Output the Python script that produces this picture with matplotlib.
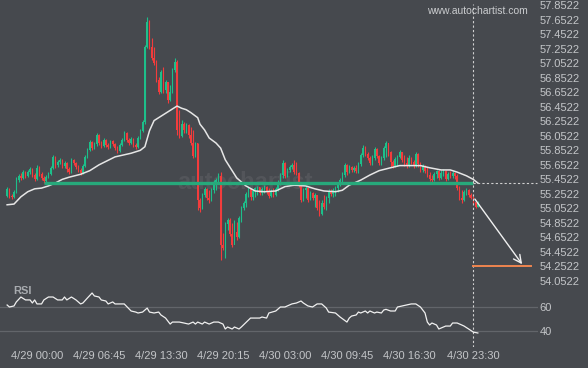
import numpy as np
import pandas as pd
import matplotlib
matplotlib.use("Agg")
import matplotlib.pyplot as plt

plt.rcParams['font.family'] = ['Liberation Sans', 'DejaVu Sans']

# 15-minute bars, first bar at 4/28 20:45
first_bar = "2024-04-28 20:45"
first_open = 55.22

closes = [
    55.32, 55.22, 55.21, 55.28, 55.44, 55.50, 55.47, 55.55, 55.50, 55.55,
    55.59, 55.51, 55.46, 55.61, 55.52, 55.47, 55.43, 55.48, 55.52, 55.61,
    55.76, 55.65, 55.69, 55.72, 55.63, 55.68, 55.59, 55.55, 55.72, 55.68,
    55.62, 55.58, 55.54, 55.63, 55.76, 55.85, 55.97, 55.88, 55.94, 56.06,
    55.95, 55.91, 55.99, 55.92, 55.90, 55.98, 55.94, 55.88, 55.84, 55.92,
    55.99, 56.09, 55.99, 55.95, 56.01, 55.92, 55.90, 56.02, 56.12, 56.24,
    57.27, 57.62, 57.27, 57.12, 57.05, 56.82, 56.65, 56.93, 56.68, 56.79,
    56.54, 56.65, 56.96, 57.07, 56.13, 56.05, 56.21, 56.13, 56.20, 56.06,
    55.95, 55.77, 55.95, 55.17, 55.06, 55.24, 55.32, 55.19, 55.17, 55.30,
    55.41, 55.44, 55.50, 54.55, 54.51, 54.84, 54.89, 54.70, 54.55, 54.73,
    54.66, 54.92, 55.06, 55.12, 55.25, 55.32, 55.21, 55.29, 55.33, 55.35,
    55.26, 55.32, 55.35, 55.28, 55.22, 55.29, 55.24, 55.32, 55.41, 55.51,
    55.68, 55.50, 55.58, 55.62, 55.65, 55.55, 55.54, 55.37, 55.17, 55.30,
    55.33, 55.17, 55.26, 55.19, 55.24, 55.06, 54.97, 55.12, 55.07, 55.19,
    55.29, 55.25, 55.30, 55.33, 55.39, 55.44, 55.51, 55.65, 55.55, 55.62,
    55.58, 55.61, 55.57, 55.66, 55.79, 55.88, 55.80, 55.74, 55.68, 55.74,
    55.87, 55.77, 55.68, 55.74, 55.88, 55.95, 55.83, 55.69, 55.63, 55.73,
    55.76, 55.83, 55.72, 55.68, 55.63, 55.74, 55.69, 55.63, 55.80, 55.66,
    55.58, 55.63, 55.57, 55.51, 55.46, 55.44, 55.52, 55.57, 55.47, 55.54,
    55.57, 55.46, 55.52, 55.50, 55.54, 55.50, 55.33, 55.19, 55.17, 55.28,
    55.30, 55.24, 55.19, 55.14, 55.07, 55.12,
]

highs = [
    55.35, 55.33, 55.25, 55.30, 55.48, 55.52, 55.54, 55.58, 55.57, 55.58,
    55.62, 55.61, 55.54, 55.65, 55.63, 55.55, 55.50, 55.51, 55.55, 55.63,
    55.79, 55.77, 55.72, 55.74, 55.73, 55.70, 55.69, 55.62, 55.74, 55.73,
    55.69, 55.65, 55.61, 55.66, 55.79, 55.88, 55.99, 55.98, 55.97, 56.09,
    56.08, 55.98, 56.02, 56.01, 55.95, 55.99, 55.99, 55.95, 55.91, 55.95,
    56.02, 56.12, 56.10, 56.02, 56.03, 56.02, 55.95, 56.05, 56.14, 56.27,
    57.30, 57.69, 57.65, 57.40, 57.27, 57.09, 56.86, 56.96, 57.00, 56.82,
    56.79, 56.75, 56.98, 57.12, 57.09, 56.41, 56.27, 56.24, 56.23, 56.21,
    56.17, 56.13, 55.97, 55.95, 55.19, 55.26, 55.35, 55.33, 55.30, 55.33,
    55.44, 55.47, 55.54, 55.55, 54.71, 54.86, 54.92, 54.92, 54.85, 54.89,
    54.86, 54.95, 55.08, 55.15, 55.28, 55.35, 55.33, 55.32, 55.35, 55.36,
    55.35, 55.35, 55.37, 55.36, 55.33, 55.32, 55.33, 55.35, 55.44, 55.54,
    55.72, 55.69, 55.61, 55.65, 55.68, 55.72, 55.69, 55.55, 55.37, 55.33,
    55.36, 55.30, 55.29, 55.28, 55.26, 55.24, 55.17, 55.17, 55.24, 55.22,
    55.32, 55.32, 55.33, 55.36, 55.41, 55.47, 55.55, 55.68, 55.66, 55.65,
    55.63, 55.63, 55.65, 55.69, 55.81, 55.92, 55.91, 55.83, 55.77, 55.79,
    55.90, 55.88, 55.79, 55.77, 55.91, 55.98, 55.94, 55.84, 55.72, 55.76,
    55.79, 55.85, 55.83, 55.79, 55.76, 55.79, 55.76, 55.72, 55.83, 55.81,
    55.69, 55.66, 55.65, 55.62, 55.55, 55.51, 55.55, 55.58, 55.58, 55.58,
    55.59, 55.58, 55.55, 55.57, 55.57, 55.55, 55.52, 55.36, 55.30, 55.30,
    55.33, 55.32, 55.26, 55.22, 55.14, 55.15,
]

lows = [
    55.21, 55.19, 55.18, 55.19, 55.26, 55.41, 55.44, 55.46, 55.47, 55.48,
    55.52, 55.48, 55.43, 55.44, 55.50, 55.44, 55.40, 55.41, 55.47, 55.51,
    55.59, 55.61, 55.62, 55.66, 55.61, 55.61, 55.55, 55.52, 55.54, 55.65,
    55.59, 55.55, 55.51, 55.52, 55.62, 55.74, 55.84, 55.85, 55.87, 55.91,
    55.92, 55.88, 55.90, 55.90, 55.87, 55.88, 55.91, 55.85, 55.81, 55.83,
    55.91, 55.98, 55.97, 55.92, 55.94, 55.90, 55.87, 55.88, 56.01, 56.10,
    56.21, 57.26, 57.25, 57.09, 57.03, 56.79, 56.63, 56.64, 56.64, 56.64,
    56.50, 56.53, 56.64, 56.93, 56.06, 56.02, 56.03, 56.09, 56.09, 56.02,
    55.92, 55.74, 55.76, 55.03, 55.00, 55.04, 55.21, 55.17, 55.12, 55.15,
    55.26, 55.30, 55.41, 54.34, 54.48, 54.37, 54.75, 54.67, 54.52, 54.62,
    54.62, 54.64, 54.86, 55.03, 55.07, 55.21, 55.17, 55.17, 55.21, 55.24,
    55.24, 55.24, 55.26, 55.25, 55.19, 55.21, 55.21, 55.22, 55.29, 55.37,
    55.47, 55.47, 55.48, 55.55, 55.59, 55.52, 55.51, 55.35, 55.14, 55.15,
    55.19, 55.14, 55.17, 55.17, 55.07, 55.03, 54.95, 54.96, 55.04, 55.03,
    55.12, 55.22, 55.21, 55.22, 55.28, 55.36, 55.41, 55.48, 55.51, 55.54,
    55.55, 55.55, 55.54, 55.54, 55.63, 55.76, 55.77, 55.72, 55.65, 55.65,
    55.72, 55.74, 55.65, 55.65, 55.72, 55.76, 55.77, 55.62, 55.61, 55.62,
    55.63, 55.74, 55.69, 55.63, 55.61, 55.62, 55.66, 55.61, 55.62, 55.62,
    55.55, 55.55, 55.54, 55.48, 55.43, 55.41, 55.43, 55.47, 55.44, 55.46,
    55.50, 55.43, 55.44, 55.47, 55.47, 55.46, 55.30, 55.17, 55.12, 55.15,
    55.24, 55.21, 55.18, 55.11, 55.06, 55.07,
]

# moving average (bar time, value)
ma_times = [
    "04-28 20:45", "04-28 21:30", "04-28 22:15", "04-28 23:00", "04-28 23:45",
    "04-29 00:30", "04-29 01:15", "04-29 02:00", "04-29 02:45", "04-29 03:30",
    "04-29 04:45", "04-29 05:45", "04-29 06:45", "04-29 08:30", "04-29 10:15",
    "04-29 11:15", "04-29 11:45", "04-29 12:15", "04-29 12:45", "04-29 13:30",
    "04-29 14:15", "04-29 14:45", "04-29 15:15", "04-29 15:45", "04-29 16:15",
    "04-29 16:45", "04-29 17:30", "04-29 17:45", "04-29 18:15", "04-29 18:45",
    "04-29 19:30", "04-29 20:00", "04-29 20:30", "04-29 21:00", "04-29 21:45",
    "04-29 22:45", "04-29 23:45", "04-30 00:45", "04-30 02:00", "04-30 03:00",
    "04-30 04:00", "04-30 05:15", "04-30 06:15", "04-30 07:15", "04-30 08:30",
    "04-30 09:15", "04-30 10:00", "04-30 11:15", "04-30 12:15", "04-30 13:15",
    "04-30 14:30", "04-30 15:30", "04-30 16:30", "04-30 17:45", "04-30 18:45",
    "04-30 20:00", "04-30 21:00", "04-30 21:45", "04-30 22:45", "04-30 23:30",
    "05-01 00:00",
]
ma_values = [
    55.10, 55.11, 55.21, 55.28, 55.32,
    55.33, 55.36, 55.40, 55.45, 55.48,
    55.52, 55.57, 55.65, 55.76, 55.81,
    55.85, 55.90, 56.12, 56.26, 56.32,
    56.38, 56.42, 56.46, 56.43, 56.41,
    56.37, 56.30, 56.21, 56.13, 56.02,
    55.95, 55.88, 55.72, 55.62, 55.47,
    55.36, 55.29, 55.28, 55.29, 55.35,
    55.37, 55.36, 55.32, 55.29, 55.28,
    55.30, 55.37, 55.44, 55.51, 55.57,
    55.61, 55.64, 55.64, 55.64, 55.61,
    55.58, 55.58, 55.55, 55.50, 55.45,
    55.40,
]

rsi_times = [
    "04-28 20:45", "04-28 21:00", "04-28 21:30", "04-28 21:45", "04-28 22:15",
    "04-28 22:45", "04-28 23:15", "04-28 23:30", "04-28 23:45", "04-29 00:00",
    "04-29 00:30", "04-29 00:45", "04-29 01:15", "04-29 01:45", "04-29 02:15",
    "04-29 02:45", "04-29 03:00", "04-29 03:15", "04-29 03:45", "04-29 04:15",
    "04-29 04:45", "04-29 05:00", "04-29 05:30", "04-29 06:00", "04-29 06:15",
    "04-29 06:45", "04-29 07:00", "04-29 07:30", "04-29 07:45", "04-29 08:15",
    "04-29 08:30", "04-29 09:30", "04-29 10:15", "04-29 10:45", "04-29 11:00",
    "04-29 11:30", "04-29 12:00", "04-29 12:15", "04-29 12:45", "04-29 13:15",
    "04-29 13:30", "04-29 14:00", "04-29 14:30", "04-29 14:45", "04-29 15:30",
    "04-29 16:00", "04-29 16:30", "04-29 17:00", "04-29 17:15", "04-29 17:30",
    "04-29 18:00", "04-29 18:15", "04-29 18:45", "04-29 19:15", "04-29 19:45",
    "04-29 20:15", "04-29 20:30", "04-29 20:45", "04-29 21:15", "04-29 21:30",
    "04-29 22:00", "04-29 22:15", "04-29 23:15", "04-30 00:15", "04-30 00:30",
    "04-30 01:00", "04-30 01:15", "04-30 02:00", "04-30 02:30", "04-30 03:00",
    "04-30 03:45", "04-30 04:15", "04-30 04:45", "04-30 05:00", "04-30 05:30",
    "04-30 06:00", "04-30 06:30", "04-30 07:00", "04-30 07:30", "04-30 07:45",
    "04-30 08:30", "04-30 09:00", "04-30 09:45", "04-30 10:00", "04-30 10:15",
    "04-30 10:45", "04-30 11:00", "04-30 11:15", "04-30 11:45", "04-30 12:00",
    "04-30 12:15", "04-30 12:45", "04-30 13:00", "04-30 13:30", "04-30 13:45",
    "04-30 14:00", "04-30 14:30", "04-30 15:00", "04-30 15:15", "04-30 16:45",
    "04-30 17:15", "04-30 17:45", "04-30 18:15", "04-30 18:30", "04-30 18:45",
    "04-30 19:00", "04-30 19:30", "04-30 19:45", "04-30 20:30", "04-30 21:00",
    "04-30 21:15", "04-30 21:45", "04-30 22:15", "04-30 22:30", "04-30 23:00",
    "04-30 23:30", "05-01 00:00",
]
rsi_values = [
    61.7, 60.0, 60.9, 64.3, 68.5,
    66.0, 66.0, 63.4, 66.0, 62.6,
    62.6, 66.0, 68.5, 68.5, 66.0,
    66.0, 68.5, 66.0, 68.5, 66.0,
    62.6, 63.4, 67.7, 71.9, 69.4,
    68.5, 66.0, 65.1, 62.6, 64.3,
    62.6, 62.6, 56.6, 55.7, 54.9,
    55.7, 59.1, 55.7, 54.9, 55.7,
    53.2, 50.6, 45.5, 47.2, 47.2,
    46.4, 45.5, 47.2, 45.5, 47.2,
    45.5, 47.2, 45.5, 47.2, 47.2,
    45.5, 41.3, 43.0, 41.3, 43.0,
    41.3, 43.0, 50.6, 50.6, 51.5,
    50.6, 54.9, 56.6, 60.0, 60.0,
    62.6, 63.4, 65.1, 63.4, 60.9,
    60.0, 62.6, 62.6, 59.1, 55.7,
    54.9, 51.5, 47.2, 50.6, 52.3,
    53.2, 55.7, 54.9, 56.6, 54.9,
    56.6, 54.9, 55.7, 54.9, 57.4,
    58.0, 56.6, 56.6, 60.0, 62.6,
    62.6, 60.0, 54.9, 47.2, 44.7,
    46.4, 44.7, 41.3, 43.8, 43.8,
    46.4, 46.4, 44.7, 43.8, 41.3,
    38.7, 37.9,
]

support_level = 55.40
support_start = "04-29 00:45"
pattern_end = "04-30 23:30"
forecast_start_price = 55.21
target_price = 54.25
forecast_end = "05-01 05:00"
target_line_end = "05-01 05:45"

price_ticks = [54.0522, 54.2522, 54.4522, 54.6522, 54.8522, 55.0522, 55.2522,
               55.4522, 55.6522, 55.8522, 56.0522, 56.2522, 56.4522, 56.6522,
               56.8522, 57.0522, 57.2522, 57.4522, 57.6522, 57.8522]
time_ticks = ["04-29 00:00", "04-29 06:45", "04-29 13:30", "04-29 20:15",
              "04-30 03:00", "04-30 09:45", "04-30 16:30", "04-30 23:30"]
rsi_levels = [60, 40]

t0 = pd.Timestamp(first_bar)


def pos(t):
    return (pd.Timestamp("2024-" + t) - t0) / pd.Timedelta("15min")


bg = "#46494e"
txt = "#c3c5c8"
up = "#1dbf8a"
down = "#f23c3c"

closes = np.array(closes)
opens = np.concatenate([[first_open], closes[:-1]])
x = np.arange(len(closes))

fig = plt.figure(figsize=(5.88, 3.68), dpi=100, facecolor=bg)
W, H = 588.0, 368.0
ax = fig.add_axes([0, 1 - 285 / H, 538 / W, 285 / H], facecolor=bg)
rax = fig.add_axes([0, 1 - 347 / H, 538 / W, 62 / H], facecolor=bg)

xlim = (-3.1, 231.2)
for a in (ax, rax):
    a.set_xlim(*xlim)
    for s in a.spines.values():
        s.set_visible(False)

ax.set_ylim(53.995, 57.921)
rax.set_ylim(26.0, 78.7)

# candles
colors = np.where(closes >= opens, up, down)
ax.vlines(x, lows, highs, colors=colors, lw=0.8, zorder=3)
ax.bar(x, np.maximum(np.abs(closes - opens), 0.012), bottom=np.minimum(opens, closes),
       width=0.62, color=colors, linewidth=0, zorder=4)

# moving average
ax.plot([pos(t) for t in ma_times], ma_values, color="#e6e6e6", lw=1.1, zorder=5)

# support line
ax.plot([pos(support_start), pos(pattern_end)], [support_level, support_level],
        color="#27a97b", lw=2.4, zorder=6, solid_capstyle="butt")
ax.plot([pos(pattern_end), xlim[1] - 0.5], [support_level, support_level],
        color="#d0d0d0", lw=0.8, ls=(0, (2, 2)), zorder=6)

# pattern end marker
ax.axvline(pos(pattern_end), ymin=0, ymax=0.986, color="#d0d0d0", lw=0.8, ls=(0, (2, 2)), zorder=6)
rax.axvline(pos(pattern_end), color="#d0d0d0", lw=0.8, ls=(0, (2, 2)))

# forecast
ax.plot([pos(pattern_end), pos(target_line_end)], [target_price, target_price],
        color="#ef8550", lw=1.4, zorder=6)
ax.annotate("", xy=(pos(forecast_end), target_price), xytext=(pos(pattern_end), forecast_start_price),
            arrowprops=dict(arrowstyle="->", color="#f0f0f0", lw=1.0, mutation_scale=14), zorder=7)

# faint watermark
ax.text(0.455, 0.36, "autochartist", transform=ax.transAxes, fontsize=17, color="white",
        alpha=0.07, ha="center", va="center", fontweight="bold", zorder=2)

ax.yaxis.tick_right()
ax.set_yticks(price_ticks)
ax.set_yticklabels(["%.4f" % v for v in price_ticks])
ax.tick_params(axis="y", length=0, pad=1, labelsize=8, labelcolor=txt)
ax.set_xticks([])

# RSI panel
for lv in rsi_levels:
    rax.axhline(lv, color="#62656a", lw=0.9, zorder=1)
rax.plot([pos(t) for t in rsi_times], rsi_values, color="#f0f0f0", lw=0.9, zorder=3)
rax.yaxis.tick_right()
rax.set_yticks(rsi_levels)
rax.set_yticklabels([str(v) for v in rsi_levels])
rax.tick_params(axis="y", length=0, pad=1, labelsize=8, labelcolor=txt)
rax.set_xticks([pos(t) for t in time_ticks])
rax.set_xticklabels([pd.Timestamp("2024-" + t).strftime("%-m/%-d %H:%M") for t in time_ticks])
rax.tick_params(axis="x", length=0, pad=3, labelsize=8, labelcolor=txt)

fig.text(13 / W, 1 - 291 / H, "RSI", fontsize=8, fontweight="bold", color="#a8abaf",
         ha="left", va="center")
fig.text(477 / W, 1 - 11 / H, "www.autochartist.com", fontsize=7.5, color="#caccce",
         ha="center", va="center")

fig.savefig("out.png", dpi=100, facecolor=bg)
